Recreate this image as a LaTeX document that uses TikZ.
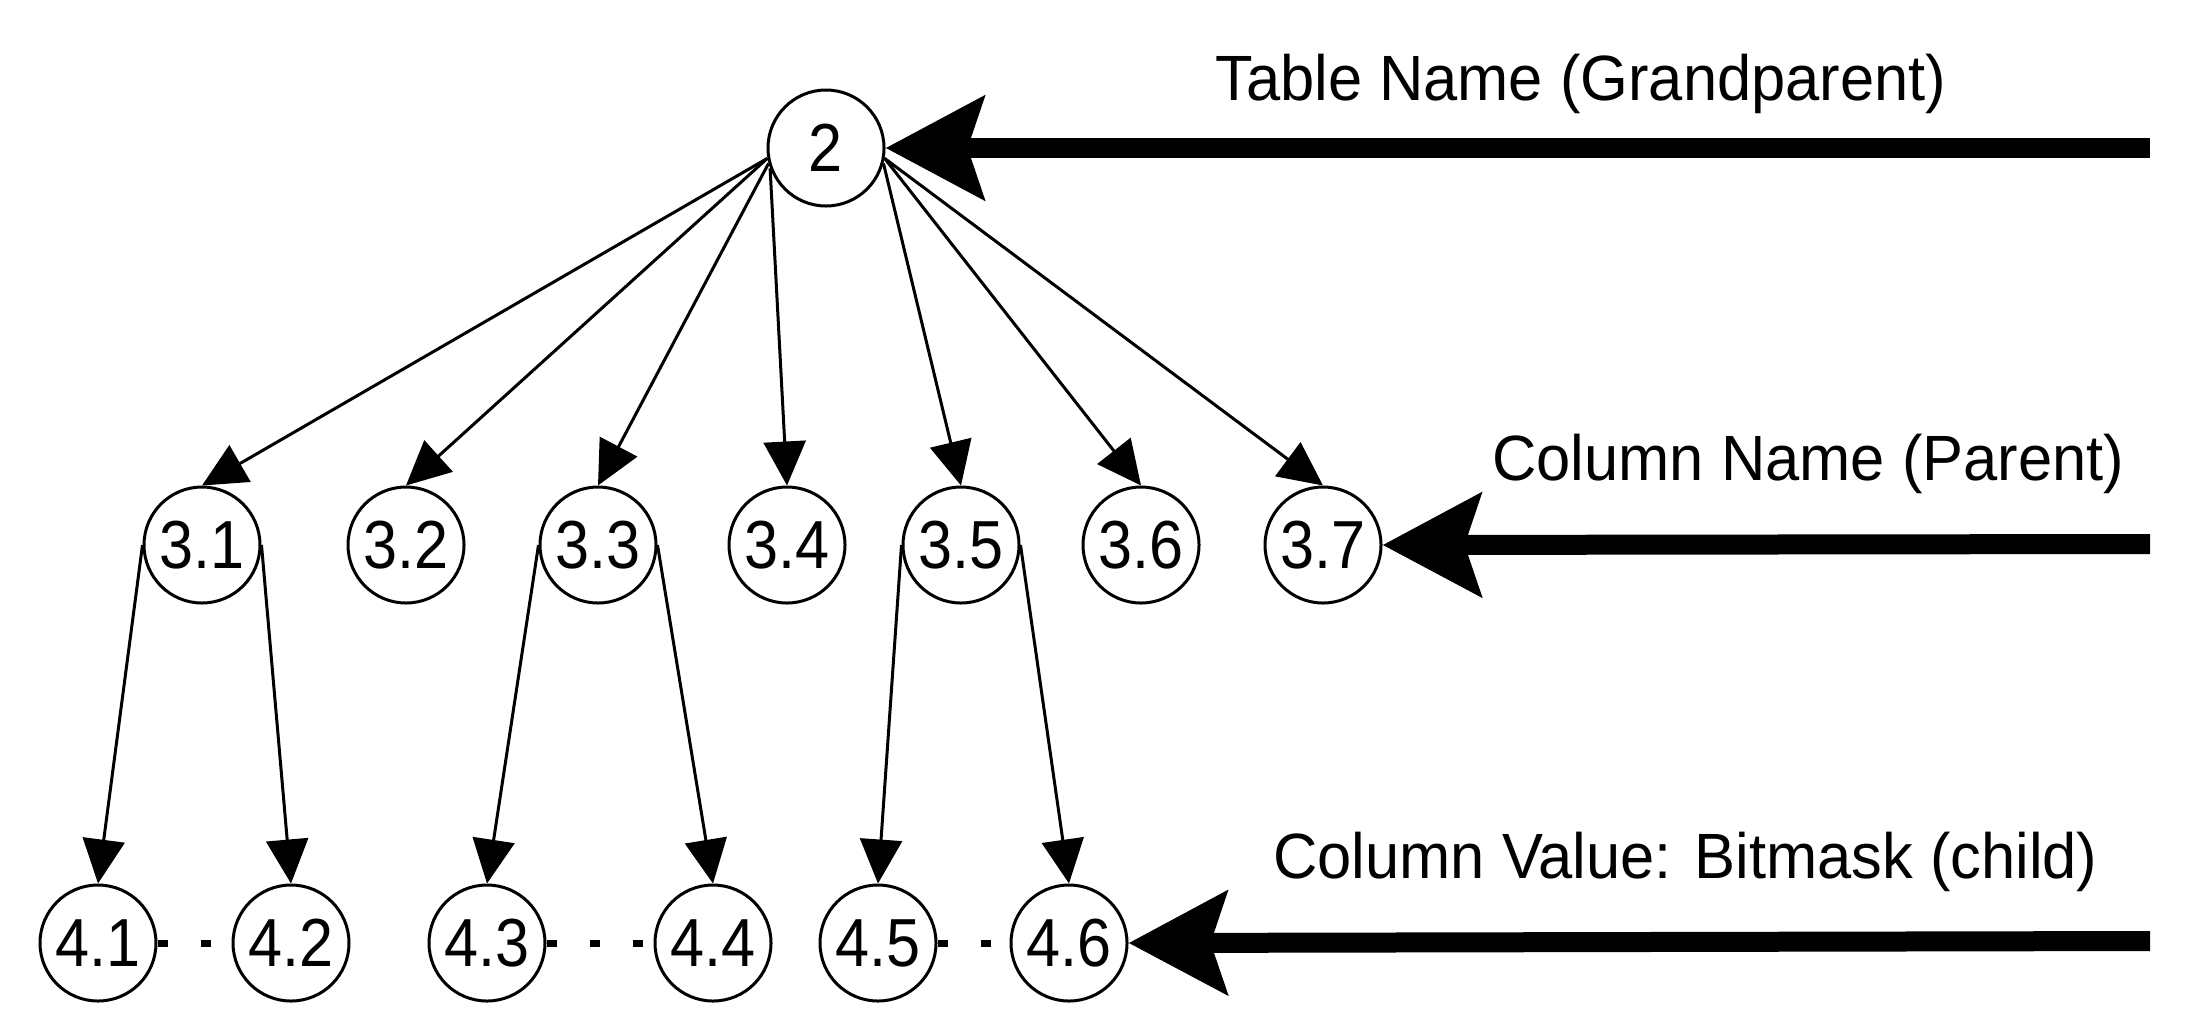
\documentclass[tikz,border=0pt]{standalone}
\usepackage{fontspec}
\setmainfont{Liberation Sans}
\newfontfamily\nodefont{Liberation Sans}[FakeStretch=0.9]
\newfontfamily\labelfont{Liberation Sans}[FakeStretch=0.96]
\usetikzlibrary{arrows.meta}
\begin{document}
\begin{tikzpicture}[x=0.5pt,y=-0.5pt,
  circ/.style={circle,draw,line width=1.5pt,minimum size=58pt,inner sep=0pt,font=\nodefont\fontsize{34}{40}\selectfont},
  thinarrow/.style={line width=1.5pt,-{Triangle[length=22pt,width=21pt]}},
  bigarrow/.style={line width=10pt,-{Stealth[length=49pt,width=51pt,inset=8pt]}},
  lbl/.style={anchor=base west,inner sep=0pt,font=\labelfont\fontsize{32}{38}\selectfont},
  dotline/.style={line width=3.5pt,dash pattern=on 5pt off 16.5pt}]
\useasboundingbox (0,0) rectangle (2187,1035);
% nodes
\node[circ] (n2) at (826,148) {2};
\node[circ] (n31) at (202,545) {3.1};
\node[circ] (n32) at (406,545) {3.2};
\node[circ] (n33) at (598,545) {3.3};
\node[circ] (n34) at (787,545) {3.4};
\node[circ] (n35) at (961,545) {3.5};
\node[circ] (n36) at (1141,545) {3.6};
\node[circ] (n37) at (1323,545) {3.7};
\node[circ] (n41) at (98,943) {4.1};
\node[circ] (n42) at (291,943) {4.2};
\node[circ] (n43) at (487,943) {4.3};
\node[circ] (n44) at (713,943) {4.4};
\node[circ] (n45) at (878,943) {4.5};
\node[circ] (n46) at (1069,943) {4.6};
% labels
\node[lbl] (t1) at (1215,100) {Table Name (Grandparent)};
\node[lbl] (t2) at (1492,480) {Column Name (Parent)};
\node[lbl] (t3) at (1273,878) {Column Value: Bitmask (child)};
% arrow start points
\coordinate (s1) at (2150,148);
\coordinate (s2) at (2150,544);
\coordinate (s3) at (2150,941);
% edges from 2
\draw[thinarrow] (n2.190) -- (n31.north);
\draw[thinarrow] (n2.190) -- (n32.north);
\draw[thinarrow] (n2.195) -- (n33.north);
\draw[thinarrow] (n2.200) -- (n34.north);
\draw[thinarrow] (n2.-15) -- (n35.north);
\draw[thinarrow] (n2.-10) -- (n36.north);
\draw[thinarrow] (n2.-10) -- (n37.north);
% edges to level 4
\draw[thinarrow] (n31.west) -- (n41.north);
\draw[thinarrow] (n31.east) -- (n42.north);
\draw[thinarrow] (n33.west) -- (n43.north);
\draw[thinarrow] (n33.east) -- (n44.north);
\draw[thinarrow] (n35.west) -- (n45.north);
\draw[thinarrow] (n35.east) -- (n46.north);
% dotted links
\draw[dotline] (n41.east) -- (n42.west);
\draw[dotline] (n43.east) -- (n44.west);
\draw[dotline] (n45.east) -- (n46.west);
% big arrows
\draw[bigarrow] (s1) -- (n2.east);
\draw[bigarrow] (s2) -- (n37.east);
\draw[bigarrow] (s3) -- (n46.east);
\end{tikzpicture}
\end{document}
